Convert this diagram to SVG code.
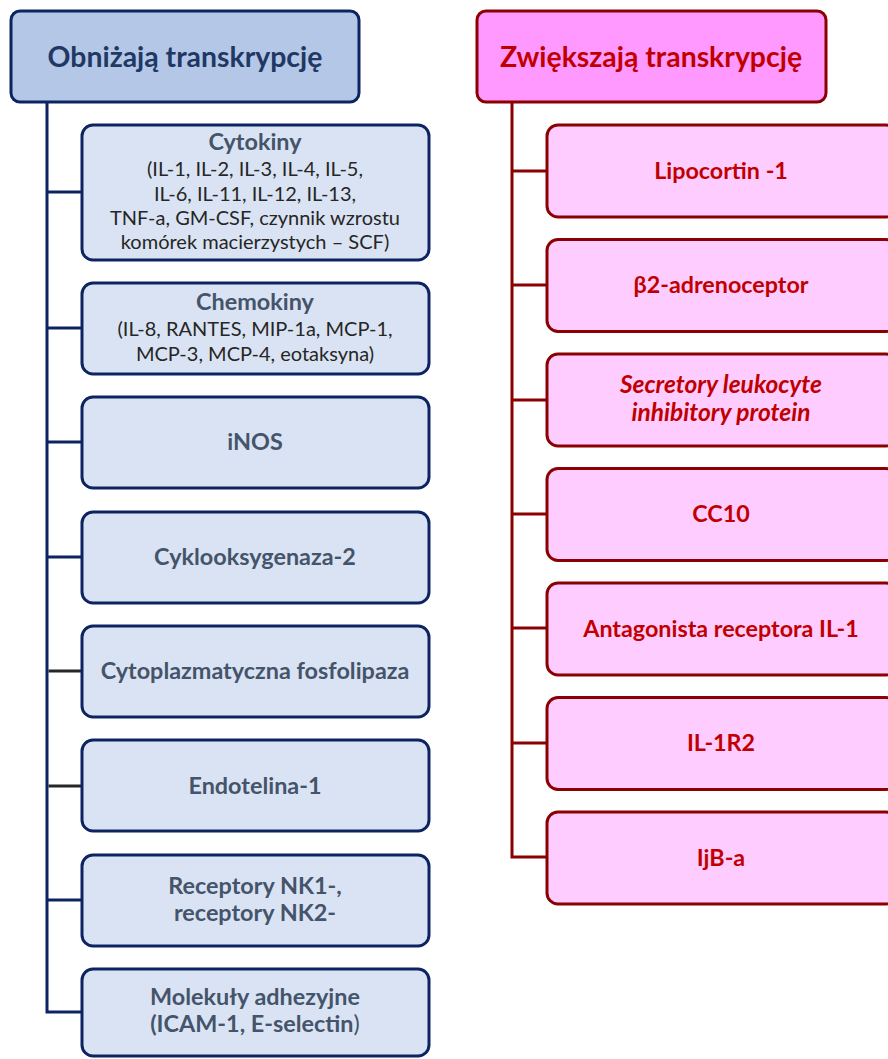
<svg xmlns="http://www.w3.org/2000/svg" width="888" height="1059" viewBox="0 0 888 1059">
<style>
text{font-family:Lato,"Liberation Sans",sans-serif;text-anchor:middle}
.lh{fill:#b4c7e7;stroke:#0c2461;stroke-width:3}
.lb{fill:#dae3f3;stroke:#0c2461;stroke-width:3}
.rh{fill:#ff99ff;stroke:#8b0000;stroke-width:3}
.rb{fill:#ffccff;stroke:#8b0000;stroke-width:3}
.th{font-size:28.4px;font-weight:bold}
.tl{fill:#1f3864}
.tb{font-size:23.4px;font-weight:bold;fill:#44546a}
.tr{font-size:23.3px;font-weight:bold;fill:#c00000}
.ti{font-size:24.5px;font-style:italic}
.tn{font-size:20px;fill:#262626}
.cl{fill:none;stroke:#0c2461;stroke-width:3}
.ck{fill:none;stroke:#262626;stroke-width:3}
.cr{fill:none;stroke:#8b0000;stroke-width:3}
</style>
<g id="connectors">
<path class="cl" d="M47,102 V1012 H82"/>
<path class="cl" d="M47,192 H82 M47,328 H82 M47,442 H82 M47,557 H82 M47,900 H82"/>
<path class="ck" d="M48.5,671 H82 M48.5,786 H82"/>
<path class="cr" d="M512,102 V857 H547"/>
<path class="cr" d="M512,171 H547 M512,285 H547 M512,400 H547 M512,514 H547 M512,628 H547 M512,743 H547"/>
</g>
<g id="left-header">
<rect class="lh" x="11" y="11" width="348" height="91" rx="9"/>
<text class="th tl" x="185" y="67">Obniżają transkrypcję</text>
</g>
<g id="cytokiny">
<rect class="lb" x="82" y="125" width="347" height="135" rx="11"/>
<text class="tb" x="255" y="150">Cytokiny</text>
<text class="tn" x="255" y="176">(IL-1, IL-2, IL-3, IL-4, IL-5,</text>
<text class="tn" x="255" y="200.5">IL-6, IL-11, IL-12, IL-13,</text>
<text class="tn" x="255" y="224.5">TNF-a, GM-CSF, czynnik wzrostu</text>
<text class="tn" x="255" y="248.5">komórek macierzystych – SCF)</text>
</g>
<g id="chemokiny">
<rect class="lb" x="82" y="283" width="347" height="91" rx="11"/>
<text class="tb" x="255" y="310">Chemokiny</text>
<text class="tn" x="255" y="336">(IL-8, RANTES, MIP-1a, MCP-1,</text>
<text class="tn" x="255" y="361">MCP-3, MCP-4, eotaksyna)</text>
</g>
<g id="inos">
<rect class="lb" x="82" y="397" width="347" height="91" rx="11"/>
<text class="tb" x="255" y="450">iNOS</text>
</g>
<g id="cox2">
<rect class="lb" x="82" y="512" width="347" height="91" rx="11"/>
<text class="tb" x="255" y="565">Cyklooksygenaza-2</text>
</g>
<g id="cpla">
<rect class="lb" x="82" y="626" width="347" height="91" rx="11"/>
<text class="tb" x="255" y="679">Cytoplazmatyczna fosfolipaza</text>
</g>
<g id="endotelina">
<rect class="lb" x="82" y="740" width="347" height="91" rx="11"/>
<text class="tb" x="255" y="793.5">Endotelina-1</text>
</g>
<g id="receptory">
<rect class="lb" x="82" y="855" width="347" height="91" rx="11"/>
<text class="tb" x="255" y="894">Receptory NK1-,</text>
<text class="tb" x="255" y="921">receptory NK2-</text>
</g>
<g id="molekuly">
<rect class="lb" x="82" y="969" width="347" height="87" rx="11"/>
<text class="tb" x="255" y="1005">Molekuły adhezyjne</text>
<text class="tb" x="255" y="1032">(ICAM-1, E-selectin<tspan font-weight="normal">)</tspan></text>
</g>
<g id="right-header">
<rect class="rh" x="477" y="11" width="349" height="91" rx="9"/>
<text class="th" fill="#c00000" x="651" y="67">Zwiększają transkrypcję</text>
</g>
<g id="lipocortin">
<rect class="rb" x="547" y="125" width="350" height="92" rx="11"/>
<text class="tr" x="721" y="178.5">Lipocortin -1</text>
</g>
<g id="beta2">
<rect class="rb" x="547" y="239.5" width="350" height="92" rx="11"/>
<text class="tr" x="721" y="293">β2-adrenoceptor</text>
</g>
<g id="slpi">
<rect class="rb" x="547" y="354" width="350" height="92" rx="11"/>
<text class="tr ti" x="721" y="393">Secretory leukocyte</text>
<text class="tr ti" x="721" y="421">inhibitory protein</text>
</g>
<g id="cc10">
<rect class="rb" x="547" y="468.5" width="350" height="92" rx="11"/>
<text class="tr" x="721" y="522">CC10</text>
</g>
<g id="il1ra">
<rect class="rb" x="547" y="583" width="350" height="92" rx="11"/>
<text class="tr" x="721" y="636.5">Antagonista receptora IL-1</text>
</g>
<g id="il1r2">
<rect class="rb" x="547" y="697.5" width="350" height="92" rx="11"/>
<text class="tr" x="721" y="751">IL-1R2</text>
</g>
<g id="ijba">
<rect class="rb" x="547" y="812" width="350" height="92" rx="11"/>
<text class="tr" x="721" y="865.5">IjB-a</text>
</g>
</svg>
